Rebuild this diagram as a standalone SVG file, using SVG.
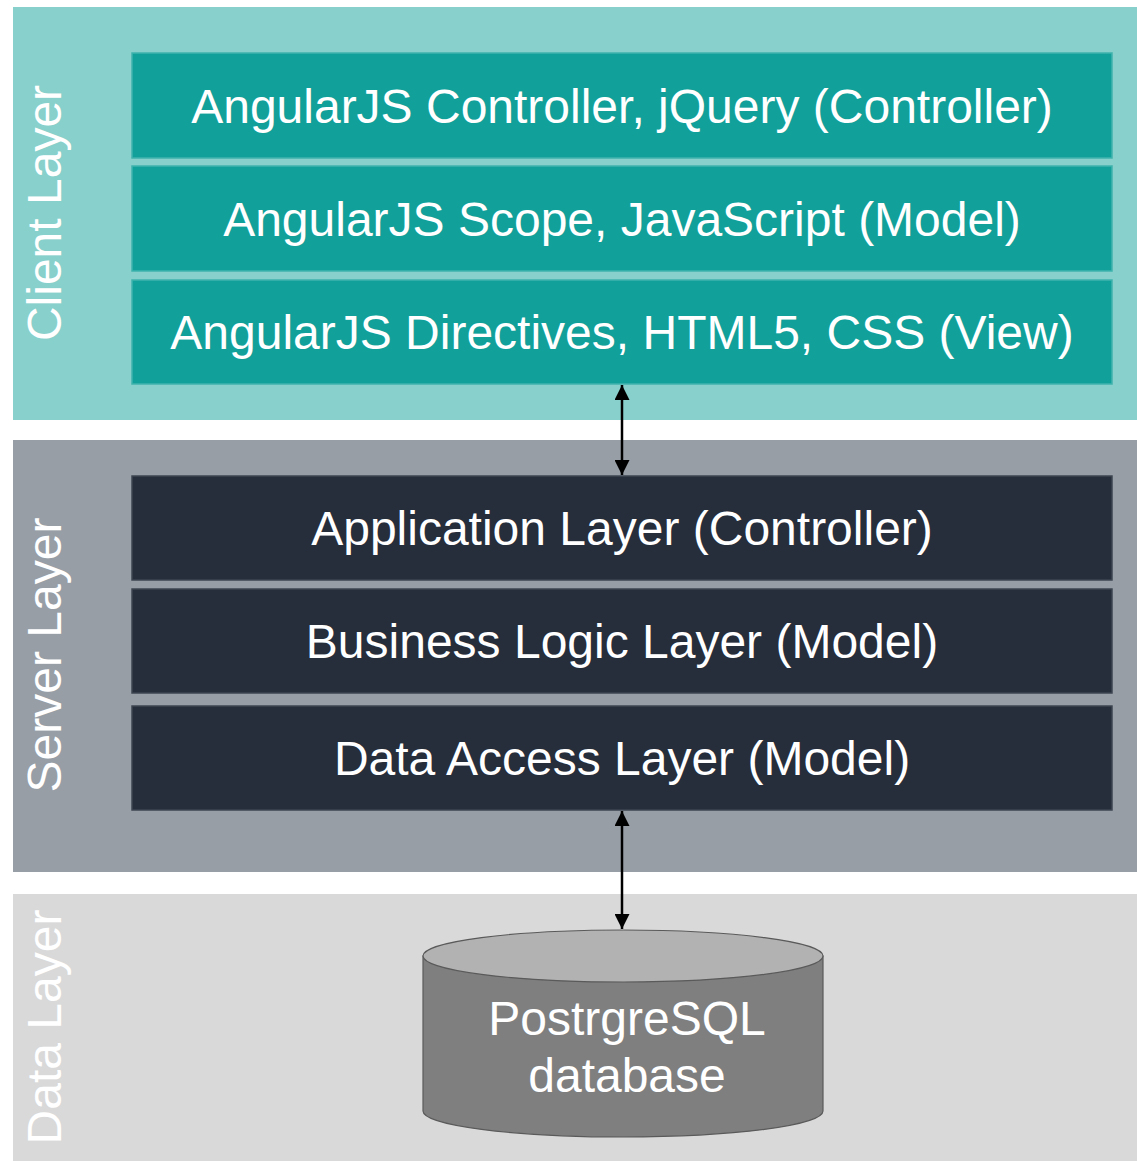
<svg xmlns="http://www.w3.org/2000/svg" width="1137" height="1161" viewBox="0 0 1137 1161">
<style>
.lbl{font-family:"Liberation Sans",Arial,sans-serif;font-size:48px;fill:#ffffff;text-anchor:middle}
.side{font-family:"Liberation Sans",Arial,sans-serif;font-size:48px;fill:#ffffff;text-anchor:middle}
.cbox{fill:#12a09a;stroke:#3fb3ad;stroke-width:1.5}
.sbox{fill:#262d3b;stroke:#3e4552;stroke-width:1.5}
.conn{stroke:#000;stroke-width:2.5;fill:none}
</style>
<defs>
<marker id="ah" viewBox="0 0 10 10" refX="10" refY="5" markerWidth="6" markerHeight="6" orient="auto-start-reverse" markerUnits="strokeWidth">
<path d="M0,0 L10,5 L0,10 Z" fill="#000"/>
</marker>
</defs>
<g id="client-layer">
<rect x="13" y="7" width="1124" height="413" fill="#88d0cb"/>
<text class="side" transform="translate(61,213) rotate(-90)">Client Layer</text>
</g>
<g id="server-layer">
<rect x="13" y="440" width="1124" height="432" fill="#979ea6"/>
<text class="side" transform="translate(61,655) rotate(-90)">Server Layer</text>
</g>
<g id="data-layer">
<rect x="13" y="894" width="1124" height="267" fill="#d9d9d9"/>
<text class="side" transform="translate(61,1027) rotate(-90)">Data Layer</text>
</g>
<g id="angular-controller">
<rect class="cbox" x="132" y="53" width="980" height="105"/>
<text class="lbl" x="622" y="123">AngularJS Controller, jQuery (Controller)</text>
</g>
<g id="angular-scope">
<rect class="cbox" x="132" y="166" width="980" height="105"/>
<text class="lbl" x="622" y="236">AngularJS Scope, JavaScript (Model)</text>
</g>
<g id="angular-directives">
<rect class="cbox" x="132" y="280" width="980" height="104"/>
<text class="lbl" x="622" y="349">AngularJS Directives, HTML5, CSS (View)</text>
</g>
<g id="application-layer">
<rect class="sbox" x="132" y="476" width="980" height="104"/>
<text class="lbl" x="622" y="545">Application Layer (Controller)</text>
</g>
<g id="business-logic-layer">
<rect class="sbox" x="132" y="589" width="980" height="104"/>
<text class="lbl" x="622" y="658">Business Logic Layer (Model)</text>
</g>
<g id="data-access-layer">
<rect class="sbox" x="132" y="706" width="980" height="104"/>
<text class="lbl" x="622" y="775">Data Access Layer (Model)</text>
</g>
<g id="database">
<path d="M423,956 L423,1111 A200,26 0 0 0 823,1111 L823,956 Z" fill="#7f7f7f" stroke="#5a5a5a" stroke-width="1.2"/>
<ellipse cx="623" cy="956" rx="200" ry="26" fill="#b2b2b2" stroke="#5a5a5a" stroke-width="1.2"/>
<text class="lbl" x="627" y="1035">PostrgreSQL</text>
<text class="lbl" x="627" y="1092">database</text>
</g>
<g id="connectors">
<line class="conn" x1="622" y1="385" x2="622" y2="475" marker-start="url(#ah)" marker-end="url(#ah)"/>
<line class="conn" x1="622" y1="811" x2="622" y2="929" marker-start="url(#ah)" marker-end="url(#ah)"/>
</g>
</svg>
